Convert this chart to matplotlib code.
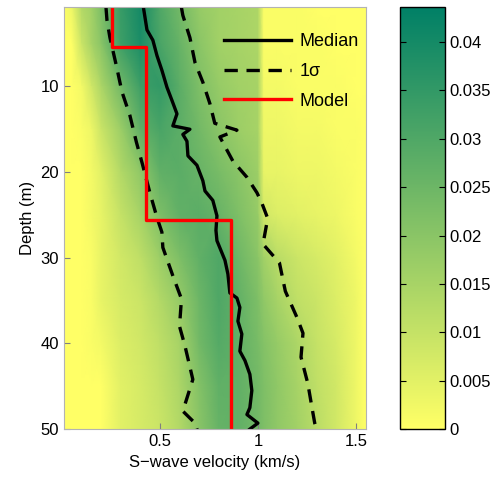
import numpy as np
import matplotlib
matplotlib.use("Agg")
import matplotlib.pyplot as plt

plt.rcParams['font.family'] = ['Liberation Sans', 'DejaVu Sans']

# median velocity profile (depth m, vs km/s)
med_depth = [0.8, 3.4, 4.6, 6.4, 8.1, 10.1, 11.6, 13.2, 14.6, 15.0, 15.6, 16.4, 18.1,
             19.2, 21.0, 22.2, 23.3, 25.1, 26.8, 28.0, 30.3, 31.9, 34.1, 34.7, 35.8,
             37.4, 38.9, 40.9, 42.0, 43.6, 45.5, 47.5, 48.3, 49.3, 50.0]
med_vel = [0.416, 0.434, 0.464, 0.485, 0.510, 0.536, 0.561, 0.587, 0.566, 0.653, 0.617,
           0.638, 0.643, 0.689, 0.719, 0.730, 0.770, 0.791, 0.786, 0.791, 0.832, 0.847,
           0.857, 0.893, 0.908, 0.898, 0.918, 0.908, 0.934, 0.959, 0.969, 0.959, 0.944,
           1.000, 0.959]

# lower 1-sigma curve
lo_depth = [0.8, 2.3, 4.3, 7.8, 10.6, 13.4, 16.5, 19.0, 22.5, 25.3, 27.0, 28.8, 32.1,
            34.8, 38.0, 40.3, 44.2, 47.9, 49.3, 50.0]
lo_vel = [0.225, 0.230, 0.245, 0.280, 0.306, 0.347, 0.380, 0.410, 0.450, 0.485, 0.510,
          0.515, 0.566, 0.610, 0.600, 0.628, 0.668, 0.617, 0.679, 0.690]

# upper 1-sigma curve
hi_depth = [0.8, 1.7, 4.3, 7.2, 9.5, 12.0, 14.3, 15.1, 15.9, 18.7, 20.6, 22.4, 23.6,
            25.4, 28.4, 30.6, 33.9, 37.0, 38.8, 41.6, 44.7, 47.5, 49.3, 50.0]
hi_vel = [0.610, 0.617, 0.653, 0.679, 0.719, 0.755, 0.780, 0.893, 0.806, 0.872, 0.944,
          0.995, 1.020, 1.050, 1.026, 1.110, 1.140, 1.200, 1.230, 1.220, 1.255, 1.276,
          1.290, 1.300]

# true layered model
model_top = [0.0, 5.4, 25.6]
model_vs = [0.255, 0.43, 0.862]
max_depth = 50.2

# posterior probability (units of 1e-3)
dens_depth = [0.75, 5, 10, 15, 20, 25, 30, 35, 40, 45, 50.25]
dens_vel = [0.0, 0.05, 0.1, 0.15, 0.2, 0.3, 0.4, 0.5, 0.6, 0.7, 0.8, 0.9, 1.0, 1.03,
            1.1, 1.2, 1.3, 1.4, 1.5, 1.55]
dens = [
    [0, 3, 13, 16, 22, 34, 40, 30, 24, 18, 16, 15, 14, 1, 1, 1, 0, 0, 0, 0],
    [0, 0, 9, 15, 20, 33, 39, 31, 26, 20, 16, 15, 14, 1, 1, 1, 1, 0, 0, 0],
    [0, 0, 2, 8, 14, 24, 33, 35, 28, 22, 18, 16, 15, 2, 2, 1, 1, 1, 0, 0],
    [0, 0, 1, 3, 9, 17, 27, 31, 28, 24, 20, 17, 15, 3, 3, 2, 2, 1, 1, 0],
    [0, 0, 0, 2, 5, 13, 19, 27, 28, 26, 23, 20, 17, 4, 4, 3, 3, 2, 1, 0],
    [0, 0, 0, 2, 4, 10, 15, 22, 27, 28, 26, 22, 18, 8, 6, 5, 4, 3, 1, 0],
    [0, 0, 0, 1, 4, 8, 11, 17, 22, 27, 30, 25, 20, 16, 12, 9, 7, 5, 2, 0],
    [0, 0, 0, 1, 4, 7, 9, 13, 18, 25, 30, 27, 22, 19, 15, 11, 9, 6, 3, 0],
    [0, 0, 0, 1, 2, 6, 8, 11, 15, 24, 29, 27, 23, 21, 18, 14, 10, 7, 3, 0],
    [0, 0, 0, 0, 0, 5, 7, 10, 14, 21, 27, 27, 24, 22, 19, 15, 11, 8, 3, 0],
    [0, 0, 0, 0, 0, 5, 7, 9, 13, 20, 26, 27, 24, 22, 19, 16, 12, 8, 3, 0],
]

fig = plt.figure(figsize=(5.03, 4.80), dpi=100)
ax = fig.add_axes([0.127, 0.106, 0.600, 0.879])
im = ax.pcolormesh(dens_vel, dens_depth, np.array(dens) * 1e-3, cmap='summer_r',
                   vmin=0, vmax=0.0436, shading='gouraud', rasterized=True)

dash = (0, (4, 2.6))
ax.plot(med_vel, med_depth, color='k', lw=2.4, label='Median')
ax.plot(lo_vel, lo_depth, color='k', lw=2.4, ls=dash, label='1σ')
ax.plot(hi_vel, hi_depth, color='k', lw=2.4, ls=dash)
mx = np.repeat(model_vs, 2)
my = np.append(np.repeat(model_top[1:], 2), max_depth)
my = np.insert(my, 0, model_top[0])
ax.plot(mx, my, color='red', lw=2.4, label='Model')

ax.set_xlim(0.01, 1.55)
ax.set_ylim(50, 0.75)
ax.set_xticks([0.5, 1, 1.5])
ax.set_xticklabels(['0.5', '1', '1.5'])
ax.set_yticks([10, 20, 30, 40, 50])
ax.tick_params(direction='in', length=4, labelsize=12, color='0.5')
for sp in ax.spines.values():
    sp.set_color('0.7')
    sp.set_linewidth(0.8)
ax.set_xlabel('S−wave velocity (km/s)', fontsize=12)
ax.set_ylabel('Depth (m)', fontsize=12)

leg = ax.legend(loc='upper right', frameon=False, fontsize=13, handlelength=3.7,
                handletextpad=0.45, labelspacing=0.7, borderaxespad=0,
                bbox_to_anchor=(1.0, 0.955))

cax = fig.add_axes([0.795, 0.106, 0.0895, 0.879])
cb = fig.colorbar(im, cax=cax)
cb.set_ticks([0, 0.005, 0.01, 0.015, 0.02, 0.025, 0.03, 0.035, 0.04])
cb.set_ticklabels(['0', '0.005', '0.01', '0.015', '0.02', '0.025', '0.03', '0.035', '0.04'])
cax.tick_params(direction='in', left=True, right=True, length=4, labelsize=12)
cb.outline.set_linewidth(1.0)

fig.savefig('out.png', dpi=100)
